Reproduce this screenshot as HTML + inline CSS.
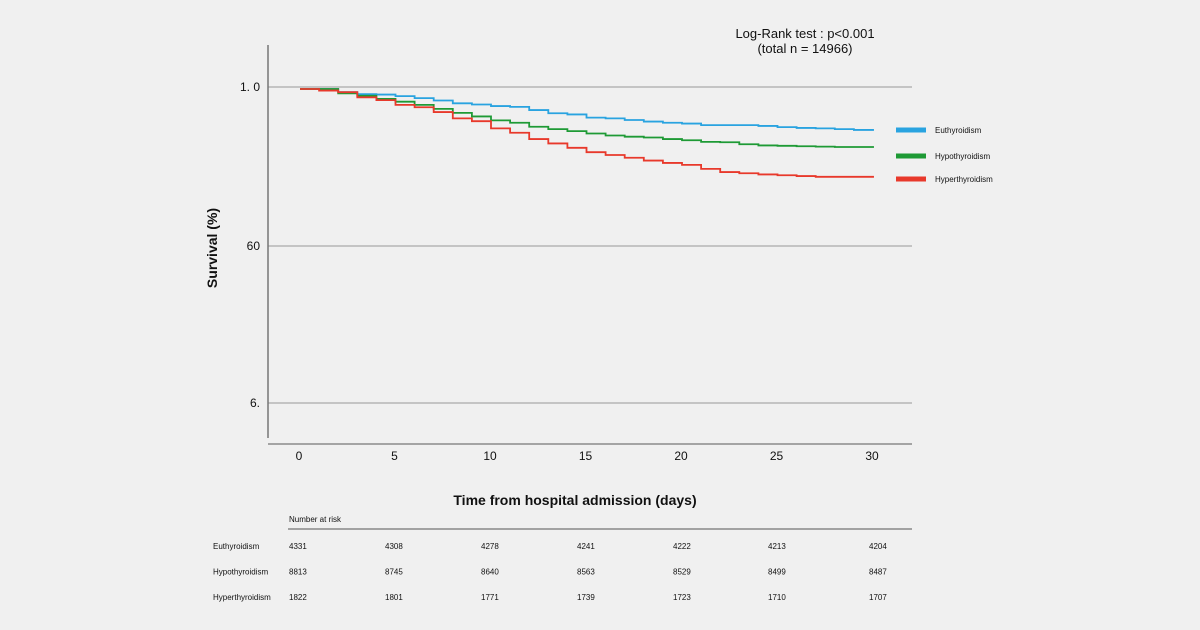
<!DOCTYPE html>
<html><head><meta charset="utf-8"><style>
body{margin:0;background:#f0f0f0;}
svg{display:block;font-family:"Liberation Sans",Arial,sans-serif;}
</style></head><body>
<svg id="chart" width="1200" height="630" viewBox="0 0 1200 630">
<rect width="1200" height="630" fill="#f0f0f0"/>
<g id="grid"></g>
<line x1="268" y1="45" x2="268" y2="438" stroke="#777" stroke-width="1.5"/>
<line x1="268" y1="444" x2="912" y2="444" stroke="#777" stroke-width="1.2"/>
<g id="series"></g>
<g id="xticks" font-size="12" fill="#111" text-anchor="middle"></g>
<text transform="translate(217,248) rotate(-90)" text-anchor="middle" font-size="14" font-weight="bold" fill="#111">Survival  (%)</text>
<text x="575" y="505" text-anchor="middle" font-size="14" font-weight="bold" fill="#111">Time from hospital admission (days)</text>
<text x="805" y="38" text-anchor="middle" font-size="13" fill="#111">Log-Rank test : p&lt;0.001</text>
<text x="805" y="53" text-anchor="middle" font-size="13" fill="#111">(total n = 14966)</text>
<g id="legend"></g>
<text x="289" y="522" font-size="8" fill="#111">Number at risk</text>
<line x1="288" y1="529" x2="912" y2="529" stroke="#555" stroke-width="1"/>
<g id="risk" font-size="8" fill="#111"></g>
</svg>
<script>
const days = [0,1,2,3,4,5,6,7,8,9,10,11,12,13,14,15,16,17,18,19,20,21,22,23,24,25,26,27,28,29];
const euthyroidism = [99.5,99.5,98.7,98.2,98.1,97.7,97.2,96.6,95.9,95.6,95.2,95.0,94.2,93.4,93.1,92.3,92.1,91.7,91.3,91.0,90.8,90.4,90.4,90.4,90.2,89.9,89.7,89.6,89.4,89.2];
const hypothyroidism = [99.5,99.5,98.4,97.8,97.0,96.3,95.5,94.5,93.5,92.6,91.6,91.0,90.0,89.4,88.9,88.3,87.8,87.5,87.3,86.9,86.6,86.2,86.1,85.6,85.3,85.2,85.1,85.0,84.9,84.9];
const hyperthyroidism = [99.5,99.1,98.7,97.4,96.7,95.5,94.9,93.7,92.1,91.4,89.6,88.5,86.9,85.8,84.7,83.6,82.9,82.2,81.5,80.9,80.4,79.4,78.6,78.3,78.0,77.8,77.6,77.4,77.4,77.4];
const xTicks = [0,5,10,15,20,25,30];
const yTickLabels = ["1. 0","60","6."];
const yTickValues = [100,60,20.5];
const riskGroups = ["Euthyroidism","Hypothyroidism","Hyperthyroidism"];
const riskEu = [4331,4308,4278,4241,4222,4213,4204];
const riskHypo = [8813,8745,8640,8563,8529,8499,8487];
const riskHyper = [1822,1801,1771,1739,1723,1710,1707];

const NS="http://www.w3.org/2000/svg";
const xS = d => 300 + d*19.1;
const yS = v => 87 + (100 - v)*3.975;
function mk(tag, attrs, parent){const e=document.createElementNS(NS,tag);for(const k in attrs)e.setAttribute(k,attrs[k]);parent.appendChild(e);return e;}

const grid=document.getElementById('grid');
yTickValues.forEach((v,i)=>{
  const l=mk('line',{x1:268,x2:912,y1:yS(v),y2:yS(v),stroke:'#b5b5b5','stroke-width':1.5},grid);
  
  
  const t=mk('text',{x:260,y:yS(v)+4,'text-anchor':'end','font-size':12,fill:'#111'},grid);
  t.textContent=yTickLabels[i];
  
  
});

const xt=document.getElementById('xticks');
xTicks.forEach(d=>{
  const t=mk('text',{x:xS(d)-1,y:460},xt);
  t.textContent=d;
  
  
});

const ser=document.getElementById('series');
const seriesList=[[euthyroidism,'#29a3e0','euthyroidism-curve'],[hypothyroidism,'#1e9a35','hypothyroidism-curve'],[hyperthyroidism,'#e8392b','hyperthyroidism-curve']];
seriesList.forEach(([vals,col,name])=>{
  let d='';
  vals.forEach((v,i)=>{
    const x0=xS(days[i]), x1=(i<vals.length-1)?xS(days[i+1]):xS(days[i]+1.05);
    d+=(i===0?'M':'L')+x0+','+yS(v)+' L'+x1+','+yS(v)+' ';
  });
  const p=mk('path',{d:d,fill:'none',stroke:col,'stroke-width':1.8},ser);
  
  
});

const lg=document.getElementById('legend');
[['Euthyroidism','#29a3e0',130],['Hypothyroidism','#1e9a35',156],['Hyperthyroidism','#e8392b',179]].forEach(([n,c,y])=>{
  const r=mk('rect',{x:896,y:y-2.5,width:30,height:5,fill:c},lg);
  
  
  const t=mk('text',{x:935,y:y+3,'font-size':8,fill:'#111'},lg);
  t.textContent=n;
  
  
});

const rk=document.getElementById('risk');
const cols=[289,385,481,577,673,768,869];
[riskEu,riskHypo,riskHyper].forEach((row,ri)=>{
  const y=549+ri*25.5;
  const lab=mk('text',{x:213,y:y},rk);
  lab.textContent=riskGroups[ri];
  
  
  row.forEach((n,ci)=>{
    const t=mk('text',{x:cols[ci],y:y},rk);
    t.textContent=n;
    
    
  });
});
</script>
</body></html>
